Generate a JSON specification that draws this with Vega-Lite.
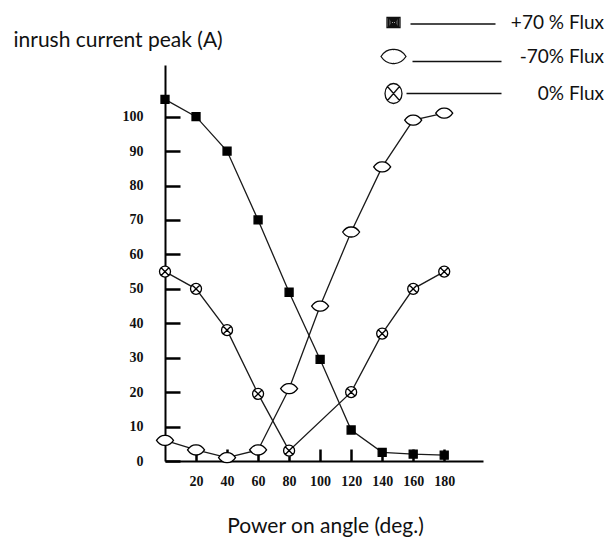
{
  "$schema": "https://vega.github.io/schema/vega-lite/v6.json",
  "width": 318,
  "height": 396,
  "autosize": {"type": "none"},
  "padding": {"left": 165, "top": 65, "right": 125, "bottom": 77},
  "background": "white",
  "config": {
    "view": {"stroke": null},
    "axis": {"grid": false, "domainColor": "black", "domainWidth": 2, "tickColor": "black", "tickWidth": 2.5, "labelColor": "#111", "labelFont": "Liberation Serif", "labelFontWeight": "bold", "titleFont": "Lato", "titleFontWeight": "normal", "titleColor": "#111"}
  },
  "resolve": {"scale": {"shape": "independent"}},
  "data": {
    "values": [
      {"angle": 0, "peak": 105, "series": "+70 % Flux"},
      {"angle": 20, "peak": 100, "series": "+70 % Flux"},
      {"angle": 40, "peak": 90, "series": "+70 % Flux"},
      {"angle": 60, "peak": 70, "series": "+70 % Flux"},
      {"angle": 80, "peak": 49, "series": "+70 % Flux"},
      {"angle": 100, "peak": 29.5, "series": "+70 % Flux"},
      {"angle": 120, "peak": 9, "series": "+70 % Flux"},
      {"angle": 140, "peak": 2.5, "series": "+70 % Flux"},
      {"angle": 160, "peak": 2, "series": "+70 % Flux"},
      {"angle": 180, "peak": 1.7, "series": "+70 % Flux"},
      {"angle": 0, "peak": 6, "series": "-70% Flux"},
      {"angle": 20, "peak": 3.2, "series": "-70% Flux"},
      {"angle": 40, "peak": 1, "series": "-70% Flux"},
      {"angle": 60, "peak": 3.2, "series": "-70% Flux"},
      {"angle": 80, "peak": 21, "series": "-70% Flux"},
      {"angle": 100, "peak": 45, "series": "-70% Flux"},
      {"angle": 120, "peak": 66.5, "series": "-70% Flux"},
      {"angle": 140, "peak": 85.4, "series": "-70% Flux"},
      {"angle": 160, "peak": 99, "series": "-70% Flux"},
      {"angle": 180, "peak": 101, "series": "-70% Flux"},
      {"angle": 0, "peak": 55, "series": "0% Flux"},
      {"angle": 20, "peak": 50, "series": "0% Flux"},
      {"angle": 40, "peak": 38, "series": "0% Flux"},
      {"angle": 60, "peak": 19.5, "series": "0% Flux"},
      {"angle": 80, "peak": 3, "series": "0% Flux"},
      {"angle": 120, "peak": 20, "series": "0% Flux"},
      {"angle": 140, "peak": 37, "series": "0% Flux"},
      {"angle": 160, "peak": 50, "series": "0% Flux"},
      {"angle": 180, "peak": 55, "series": "0% Flux"}
    ]
  },
  "encoding": {
    "x": {
      "field": "angle", "type": "quantitative",
      "scale": {"domain": [0, 205], "nice": false},
      "axis": {"values": [20, 40, 60, 80, 100, 120, 140, 160, 180], "tickSize": -12, "labelPadding": 25, "labelFontSize": 14, "title": "Power on angle (deg.)", "titleFontSize": 21, "titleX": 160, "titleY": 65, "titleBaseline": "middle", "titleAnchor": "middle"}
    },
    "y": {
      "field": "peak", "type": "quantitative",
      "scale": {"domain": [0, 115], "nice": false},
      "axis": {"values": [0, 10, 20, 30, 40, 50, 60, 70, 80, 90, 100], "tickSize": -15, "labelPadding": 37, "labelFontSize": 14, "title": "inrush current peak (A)", "titleAngle": 0, "titleFontSize": 21, "titleX": -152, "titleY": -25, "titleAlign": "left", "titleBaseline": "middle"}
    }
  },
  "layer": [
    {
      "mark": {"type": "line", "color": "#1a1a1a", "strokeWidth": 1.3, "clip": false},
      "encoding": {"detail": {"field": "series"}}
    },
    {
      "mark": {"type": "point", "filled": false, "color": "black", "stroke": "black", "strokeWidth": 1.3, "size": 100, "opacity": 1, "clip": false},
      "encoding": {
        "fill": {"field": "series", "type": "nominal", "scale": {"domain": ["+70 % Flux", "-70% Flux", "0% Flux"], "range": ["black", "white", "white"]}, "legend": null},
        "shape": {
          "field": "series", "type": "nominal",
          "scale": {"domain": ["+70 % Flux", "-70% Flux", "0% Flux"], "range": ["M-0.8,-0.8H0.8V0.8H-0.8Z", "M-1.7,0Q-1,-1.05,0,-1Q1,-1.05,1.7,0Q1,1.05,0,1Q-1,1.05,-1.7,0Z", "M-1.1,0A1.1,1.1,0,1,1,1.1,0A1.1,1.1,0,1,1,-1.1,0ZM-0.78,-0.78L0.78,0.78M-0.78,0.78L0.78,-0.78"]},
          "legend": null
        }
      }
    },
    {
      "mark": {"type": "point", "filled": false, "color": "black", "stroke": "black", "strokeWidth": 1.3, "size": 100, "opacity": 0, "clip": false},
      "encoding": {
        "fill": {"field": "series", "type": "nominal", "legend": null},
        "shape": {
          "field": "series", "type": "nominal",
          "scale": {"domain": ["+70 % Flux", "-70% Flux", "0% Flux"], "range": ["M-1.3,-1H1.3V1H-1.3ZM-1,-0.75H1V0.75H-1ZM-0.7,-0.5H0.7V0.5H-0.7ZM-0.4,-0.25H0.4V0.25H-0.4ZM-0.15,0H0.15M3.4,0.3H20.4", "M-2.5,0Q-1.5,-1.5,0,-1.4Q1.5,-1.5,2.5,0Q1.5,1.5,0,1.4Q-1.5,1.5,-2.5,0ZM3.8,1H21.6", "M-1.7,0A1.7,2,0,1,1,1.7,0A1.7,2,0,1,1,-1.7,0ZM-1.2,-1.4L1.2,1.4M-1.2,1.4L1.2,-1.4M2.6,0H21.6"]},
          "legend": {
            "title": null, "orient": "none", "legendX": 219, "legendY": -52, "padding": 0,
            "symbolSize": 100, "symbolStrokeWidth": 1.3, "symbolStrokeColor": "#111111", "symbolFillColor": "white", "symbolOpacity": 1,
            "labelFont": "Lato", "labelFontSize": 19, "labelColor": "#111", "labelAlign": "right", "labelOffset": 201, "labelLimit": 300, "rowPadding": 13
          }
        }
      }
    }
  ]
}
